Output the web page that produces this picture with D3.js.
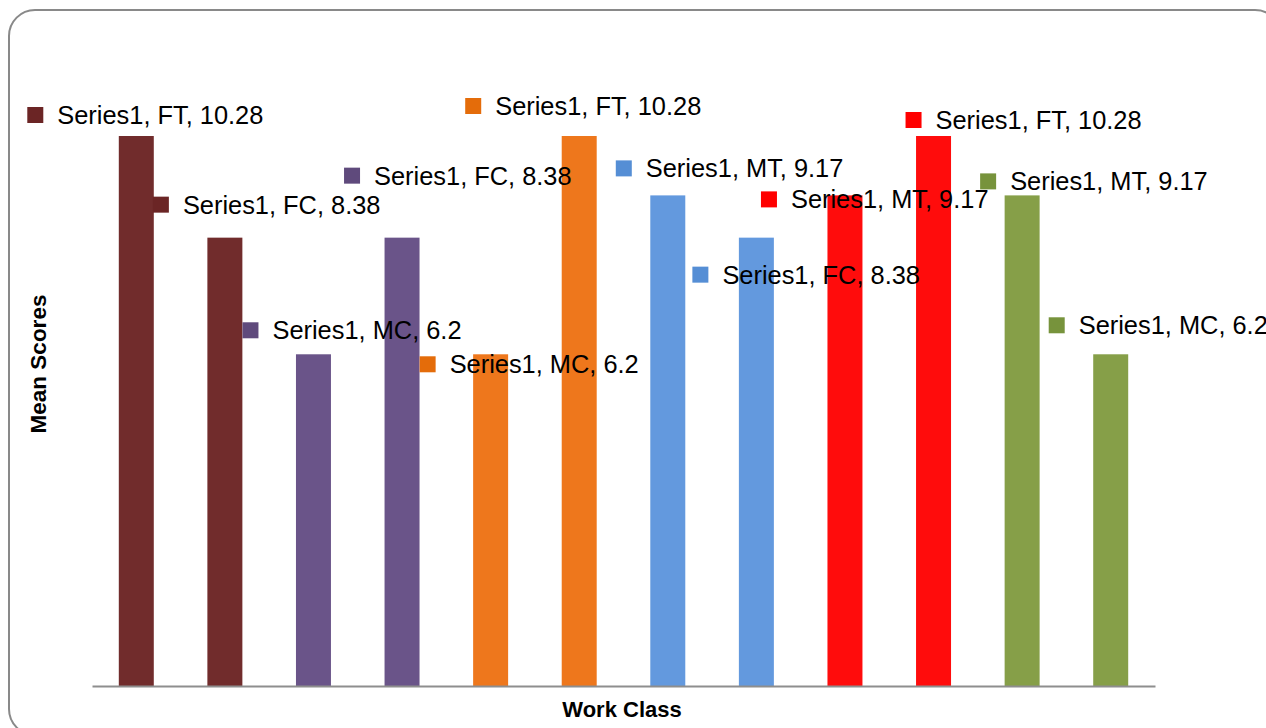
<!DOCTYPE html>
<html>
<head>
<meta charset="utf-8">
<script src="https://cdn.jsdelivr.net/npm/d3@7"></script>
<style>
  html, body { margin: 0; padding: 0; background: #fff; }
  svg { display: block; }
</style>
</head>
<body>
<svg id="chart" width="1266" height="728"></svg>
<script>
// Work class categories, one bar each
const categories = ["FT", "FC", "MC", "FC", "MC", "FT", "MT", "FC", "MT", "FT", "MT", "MC"];
const seriesName = "Series1";
const values = [10.28, 8.38, 6.2, 8.38, 6.2, 10.28, 9.17, 8.38, 9.17, 10.28, 9.17, 6.2];

// Fill per bar and the matching legend-key colour on its data label
const barColors = ["#712C2C", "#712C2C", "#6A5489", "#6A5489", "#EE771C", "#EE771C",
                   "#6399DE", "#6399DE", "#FF0C0C", "#FF0C0C", "#869F48", "#869F48"];
const keyColors = ["#6B2525", "#6B2525", "#5F4A7C", "#5F4A7C", "#E46C0A", "#E46C0A",
                   "#558ED5", "#558ED5", "#FF0000", "#FF0000", "#77933C", "#77933C"];

// Manual data label placement: key offset from bar centre (dx) and from bar top (dy)
const labelOffsets = [[-109, -21], [-72, -33], [-71, -24], [-58, -62], [-71, 10], [-114, -30],
                      [-52, -27], [-64, 37], [-84, 4], [-28, -16], [-42, -14], [-62, -29]];

const svg = d3.select("#chart");

// Chart area border (rounded, partly running off the canvas)
svg.append("rect")
  .attr("x", 9).attr("y", 10)
  .attr("width", 1272).attr("height", 725)
  .attr("rx", 26).attr("ry", 26)
  .attr("fill", "#fff")
  .attr("stroke", "#898989")
  .attr("stroke-width", 2);

const x = d3.scaleBand()
  .domain(d3.range(categories.length))
  .range([92, 1155])
  .paddingInner(0.605)
  .paddingOuter(0.3025);

const y = d3.scaleLinear()
  .domain([0, d3.max(values)])
  .range([686, 136]);

// Bars
svg.append("g")
  .selectAll("rect")
  .data(values)
  .join("rect")
  .attr("x", (d, i) => x(i))
  .attr("y", d => y(d))
  .attr("width", x.bandwidth())
  .attr("height", d => y(0) - y(d))
  .attr("fill", (d, i) => barColors[i]);

// Category axis: only the base line is shown
const xAxis = svg.append("g")
  .attr("transform", `translate(0,${y(0)})`)
  .call(d3.axisBottom(x).tickSize(0).tickSizeOuter(0).tickFormat(""));
xAxis.select(".domain").attr("stroke", "#8E8E8E").attr("stroke-width", 2);
xAxis.selectAll(".tick").remove();

// Data labels with legend keys
const labels = svg.append("g")
  .selectAll("g")
  .data(values)
  .join("g")
  .attr("transform", (d, i) => {
    const cx = x(i) + x.bandwidth() / 2;
    const [dx, dy] = labelOffsets[i];
    return `translate(${cx + dx},${y(d) + dy})`;
  });

labels.append("rect")
  .attr("x", 0).attr("y", -8)
  .attr("width", 16).attr("height", 16)
  .attr("fill", (d, i) => keyColors[i]);

labels.append("text")
  .attr("x", 30).attr("y", 9)
  .attr("font-family", "'Liberation Sans', Arial, sans-serif")
  .attr("font-size", 25.4)
  .attr("fill", "#000")
  .text((d, i) => `${seriesName}, ${categories[i]}, ${d}`);

// Axis titles
svg.append("text")
  .attr("x", 622).attr("y", 717)
  .attr("text-anchor", "middle")
  .attr("font-family", "'Liberation Sans', Arial, sans-serif")
  .attr("font-weight", "bold")
  .attr("font-size", 22)
  .attr("fill", "#000")
  .text("Work Class");

svg.append("text")
  .attr("transform", "translate(46,364) rotate(-90)")
  .attr("text-anchor", "middle")
  .attr("font-family", "'Liberation Sans', Arial, sans-serif")
  .attr("font-weight", "bold")
  .attr("font-size", 22.5)
  .attr("fill", "#000")
  .text("Mean Scores");
</script>
</body>
</html>
